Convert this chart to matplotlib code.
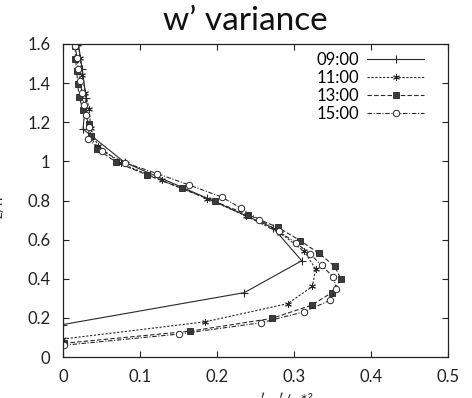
import matplotlib
matplotlib.use("Agg")
import matplotlib.pyplot as plt

plt.rcParams['font.family'] = ['Lato', 'DejaVu Sans']

# ---- data ----
labels = ["09:00", "11:00", "13:00", "15:00"]

z09 = [0.166, 0.329, 0.492, 0.660, 0.812, 0.995, 1.165, 1.325, 1.47, 1.60]
v09 = [0.000, 0.2355, 0.310, 0.273, 0.187, 0.080, 0.026, 0.030, 0.025, 0.020]

z11 = [0.092, 0.18, 0.273, 0.361, 0.451, 0.541, 0.634, 0.72, 0.81, 0.904,
       0.99, 1.08, 1.17, 1.27, 1.35, 1.44, 1.53, 1.60]
v11 = [0.000, 0.185, 0.292, 0.324, 0.328, 0.313, 0.282, 0.238, 0.187, 0.128,
       0.075, 0.045, 0.036, 0.034, 0.029, 0.025, 0.022, 0.020]

z13 = [0.07, 0.132, 0.197, 0.265, 0.329, 0.397, 0.463, 0.531, 0.595, 0.663,
       0.727, 0.795, 0.862, 0.931, 0.996, 1.064, 1.13, 1.19, 1.262, 1.33,
       1.396, 1.46, 1.525, 1.59]
v13 = [0.001, 0.165, 0.271, 0.323, 0.349, 0.361, 0.353, 0.332, 0.308, 0.279,
       0.240, 0.197, 0.154, 0.109, 0.069, 0.044, 0.036, 0.034, 0.026, 0.021,
       0.019, 0.018, 0.016, 0.016]

z15 = [0.06, 0.117, 0.175, 0.231, 0.29, 0.349, 0.409, 0.468, 0.527, 0.585,
       0.643, 0.702, 0.761, 0.818, 0.879, 0.938, 0.994, 1.053, 1.113, 1.176,
       1.235, 1.29, 1.35, 1.41, 1.47, 1.53, 1.59]
v15 = [0.001, 0.150, 0.257, 0.313, 0.347, 0.355, 0.351, 0.336, 0.321, 0.302,
       0.280, 0.255, 0.231, 0.206, 0.164, 0.122, 0.080, 0.050, 0.033, 0.034,
       0.030, 0.027, 0.025, 0.022, 0.020, 0.018, 0.016]

xticks = [0, 0.1, 0.2, 0.3, 0.4, 0.5]
xticklabels = ["0", "0.1", "0.2", "0.3", "0.4", "0.5"]
yticks = [0, 0.2, 0.4, 0.6, 0.8, 1.0, 1.2, 1.4, 1.6]
yticklabels = ["0", "0.2", "0.4", "0.6", "0.8", "1", "1.2", "1.4", "1.6"]

# ---- figure ----
fig = plt.figure(figsize=(4.72, 3.98), dpi=100)
ax = fig.add_axes([63/472, 1-357/398, (448-63)/472, (357-44)/398])

lc = '#2a2a2a'
ax.plot(v09, z09, color=lc, lw=0.8, ls='-', marker='+', ms=5.5, mew=0.8,
        label=labels[0])
ax.plot(v11, z11, color=lc, lw=0.8, ls=(0, (2, 1.5)), marker=(6, 2, 0), ms=4.8,
        mew=0.7, label=labels[1])
ax.plot(v13, z13, color=lc, lw=0.8, ls=(0, (4, 2)), marker='s', ms=4.4,
        mfc='#3c3c3c', mec='#222222', mew=0.6, label=labels[2])
ax.plot(v15, z15, color=lc, lw=0.8, ls=(0, (4, 1.5, 1, 1.5)), marker='o', ms=4.6,
        mfc='white', mec=lc, mew=0.7, label=labels[3])

ax.set_xlim(0, 0.5)
ax.set_ylim(0, 1.6)
ax.set_xticks(xticks)
ax.set_xticklabels(xticklabels)
ax.set_yticks(yticks)
ax.set_yticklabels(yticklabels)
ax.tick_params(direction='in', top=True, right=True, length=4, width=0.8,
               labelsize=12, colors='#222222')
ax.tick_params(axis='x', pad=9)
ax.tick_params(axis='y', pad=9)
for s in ax.spines.values():
    s.set_linewidth(0.9)
    s.set_color('#222222')

leg = ax.legend(loc='upper right', bbox_to_anchor=(0.955, 0.995),
                frameon=False, markerfirst=False,
                fontsize=12, handlelength=3.4, labelspacing=0.12,
                borderaxespad=0.0, handletextpad=0.5)

fig.text(0.52, 0.947, "w\u2019 variance", fontsize=24, ha='center',
         va='center', color='#111111')

# partially visible axis labels (cut by the image border as in the reference)
fig.text(0.595, -0.012, "w\u2032w\u2032/u*\u00b2", fontsize=12, ha='center',
         va='center', color='#333333')
fig.text(-0.004, 0.48, "z/h", fontsize=11, rotation=90, ha='center',
         va='center', color='#333333')

fig.savefig("out.png", dpi=100)
